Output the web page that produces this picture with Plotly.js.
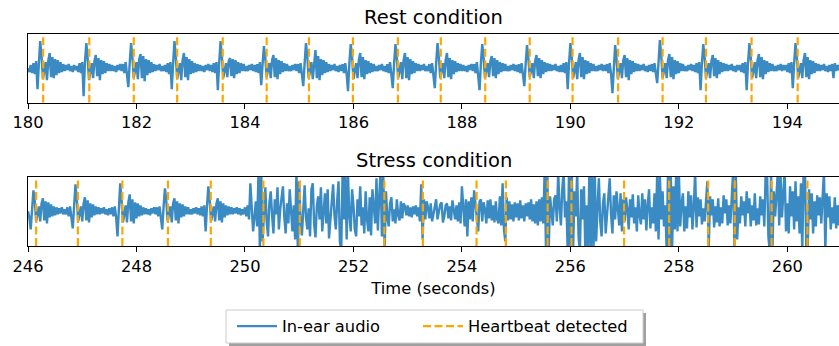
<!DOCTYPE html>
<html>
<head>
<meta charset="utf-8">
<script src="https://cdn.plot.ly/plotly-3.0.1.min.js"></script>
<style>html,body{margin:0;padding:0;background:#fff;}#chart{width:839px;height:346px;}</style>
</head>
<body>
<div id="chart"></div>
<script>
// ---- data ----
const sampleStep = 0.025;            // seconds between samples
const restStart = 180;
const stressStart = 246;

// In-ear audio, rest condition (arbitrary amplitude units)
const restAudio = [
0,-4,
3,-5,5,-6,7,-21,4,27,12,-11,-3,6,-12,8,15,-9,11,-10,9,-7,8,-5,6,-4,4,-3,
3,-2,4,-3,2,-4,3,-2,
2,-4,5,-5,6,-28,6,25,10,-12,-4,5,-10,7,13,-8,10,-12,8,-6,7,-5,5,-3,4,-3,
3,-3,2,-4,3,-2,4,
-3,4,-5,6,-6,-19,5,25,11,-10,-2,6,-11,9,14,-10,12,-13,9,-7,8,-5,6,-4,4,-3,
3,-2,4,-3,2,-3,
3,-4,5,-6,6,-21,4,27,12,-11,-3,5,-12,8,15,-9,11,-12,9,-6,7,-5,5,-4,4,-3,
3,-3,2,-4,3,-2,4,-3,
3,-4,5,-5,6,-22,5,27,11,-10,-3,5,-9,7,10,-8,9,-10,8,-6,6,-5,5,-3,4,-3,
2,-3,3,-2,4,-3,
3,-4,4,-5,6,-17,4,22,10,-9,-2,5,-10,8,13,-9,10,-11,8,-6,7,-4,5,-3,4,-3,
2,-3,3,-2,4,
-3,4,-5,5,-6,-18,5,25,11,-10,-3,6,-11,9,18,-10,12,-12,9,-7,8,-5,6,-4,4,-3,
3,-2,4,-3,2,-4,3,
-3,4,-5,5,-6,-23,5,24,11,-11,-3,5,-10,8,15,-9,11,-11,8,-6,7,-5,5,-4,4,-3,
2,-3,3,-2,4,-3,2,
-4,4,-5,6,-6,-20,5,24,10,-10,-3,6,-11,8,15,-10,11,-12,9,-6,7,-5,5,-3,4,-3,
3,-2,4,-3,2,
-3,4,-5,5,-6,-20,5,25,11,-10,-3,5,-10,8,15,-9,10,-11,8,-6,7,-4,5,-3,4,-3,
3,-3,2,-4,3,-2,4,
-3,4,-5,6,-6,-22,5,24,10,-10,-2,5,-9,7,12,-8,10,-10,8,-6,6,-4,5,-3,4,-3,
2,-3,3,-2,4,-3,3,
-4,4,-5,5,-6,-18,4,23,10,-9,-3,5,-10,7,13,-8,10,-10,8,-6,6,-4,5,-3,4,-3,
3,-2,4,-3,2,-4,
3,-4,5,-5,6,-21,5,25,11,-10,-3,6,-11,8,15,-9,11,-11,8,-6,7,-5,5,-3,4,-3,
2,-3,3,-2,4,-3,3,
-3,4,-5,5,-6,-25,5,23,10,-11,-3,5,-10,8,13,-9,10,-12,8,-6,7,-4,5,-3,4,-3,
3,-2,4,-3,2,-4,3,
-3,4,-4,5,-6,-15,6,28,12,-10,-3,5,-10,8,14,-9,11,-11,8,-6,7,-5,5,-3,4,-3,
2,-3,3,-2,4,-3,
3,-4,5,-5,6,-22,5,24,11,-10,-3,5,-10,7,13,-8,10,-10,8,-6,6,-4,5,-3,4,-3,
3,-2,4,-3,2,-4,3,-2,
3,-4,5,-5,6,-22,5,25,11,-10,-3,6,-10,8,14,-9,11,-11,8,-6,7,-4,5,-3,4,-3,
2,-3,3,-2,4,-3,3,-2,
3,-4,5,-5,6,-20,5,25,11,-10,-3,5,-10,8,15,-9,11,-11,8,-6,7,-5,5,-3,4,-3,
3,-2,4,-3,2,-4,3,-3,4,-10,5,-3,3,-2,4,-3
];

// In-ear audio, stress condition
const stressAudio = [
0,-6,-18,6,21,10,-10,-3,5,-10,8,13,-9,10,-12,9,-6,7,-5,5,-4,4,-3,
3,-2,4,-3,2,
-3,4,-5,5,-6,-17,5,27,12,-10,-3,5,-10,8,14,-9,11,-11,8,-6,7,-4,5,-3,4,-3,
3,-2,4,-3,2,-4,3,
-3,4,-5,5,-6,-25,5,28,12,-11,-3,6,-11,9,17,-10,12,-12,9,-7,8,-5,6,-4,4,-3,
3,-3,2,-4,3,-2,4,
-3,4,-5,5,-6,-18,5,23,10,-10,-3,5,-11,8,13,-9,10,-12,8,-6,7,-5,5,-3,4,-3,
2,-3,3,-2,4,-3,
3,-4,5,-5,6,-20,5,25,11,-10,-3,5,-10,8,13,-9,10,-11,8,-6,6,-4,5,-3,4,-3,
3,-2,4,-3,3,-4,2,-3,4,-5,6,-8,
28,4,-20,-6,10,-15,40,-40,38,-30,6,24,-10,-25,8,20,-4,-22,
12,-3,24,-18,2,16,25,-5,-22,8,-12,22,-2,-20,6,
-28,42,-40,30,-10,-24,8,26,-6,-18,3,-25,22,28,-12,
-26,5,15,-8,24,-20,2,18,-12,22,
-27,-6,12,27,-4,-18,10,30,-30,-40,
40,-8,38,-28,36,-4,-20,22,6,-18,
-25,12,-5,25,-14,4,-22,20,-8,-20,
14,-24,22,3,-12,33,-19,14,
40,-25,38,-40,
20,-6,-15,8,14,-10,2,-12,12,-4,-9,10,-7,8,
5,-4,6,-5,4,-6,5,-3,6,-5,4,
-10,27,-28,12,-8,
10,4,-7,8,-10,-3,6,12,-8,-2,7,9,-11,-5,6,8,-7,5,-9,11,3,-8,6,-10,9,
-12,25,8,-15,12,-25,10,-8,14,-10,21,6,-12,-20,10,12,
-10,9,2,-12,11,-7,12,-9,6,-11,10,-8,-12,
15,-14,28,-18,-30,14,-9,
10,-8,7,-10,9,-6,8,-9,11,-7,6,-10,8,-5,9,-8,12,-10,7,-12,10,-14,12,-10,
14,-12,40,-38,36,-40,15,2,-14,12,
16,-10,40,4,-14,22,40,-6,10,-40,
42,-40,40,-38,20,-5,40,-25,-40,22,
-8,25,-40,6,-40,42,-38,40,-40,38,
-30,4,33,-10,-25,8,18,-22,-6,15,
33,-4,-22,16,-8,20,4,-14,18,-20,
12,
-10,14,2,-18,12,-6,17,-12,4,-20,
16,-4,-13,18,-8,12,-19,6,22,-17,
4,-12,18,-20,38,-28,36,-8,20,-15,
6,-40,42,-40,40,-38,25,-18,40,-20,
40,-15,8,18,-20,5,-17,20,-6,16,
-18,4,40,-16,14,-5,12,-13,3,-10,
12,30,-38,15,-4,12,-16,5,-11,13,
-15,4,-12,16,-2,12,-14,6,-12,20,
40,-38,36,-28,4,-12,15,-4,10,-15,
20,-2,13,-15,6,-9,18,-14,3,-13,
15,-4,12,-15,38,42,-25,-40,40,-40,
20,-5,18,40,-14,36,-6,20,40,-20,
8,-22,25,-5,20,-18,30,-10,15,-22,
28,-40,42,40,-40,-38,22,-8,18,-22,
10,-15,16,-4,14,-12,18,40,-40,18,
-6,15,-18,4,-12,14,-17,6,-14,12,
-10
];

// Detected heartbeat times (seconds)
const restBeats = [180.28,181.13,181.95,182.75,183.59,184.40,185.18,185.99,186.82,187.61,188.43,189.25,190.04,190.88,191.70,192.50,193.34,194.19];
const stressBeats = [246.15,246.92,247.74,248.58,249.37,250.34,251.01,252.57,253.28,254.27,254.81,255.58,256.02,256.99,257.82,258.54,259.03,259.71,260.37];

// Tick labels
const restTicks = [180,182,184,186,188,190,192,194];
const stressTicks = [246,248,250,252,254,256,258,260];

// ---- build traces ----
const YLIM = 34.6;
const BLUE = '#3a8ac4';
const ORANGE = '#ffa500';
const pxPerSec = 54.24;
const plotW = 811;
const H = 346;

function timeAxis(start, n){ const t=[]; for(let i=0;i<n;i++) t.push(+(start + i*sampleStep).toFixed(4)); return t; }
function vlines(beats){ const x=[],y=[]; beats.forEach(b=>{x.push(b,b,null); y.push(-YLIM,YLIM,null);}); return {x,y}; }

const rv = vlines(restBeats), sv = vlines(stressBeats);
const audioLine = {color:BLUE, width:2.4};
const beatLine = {color:ORANGE, width:2.2, dash:'8px,3.5px'};

const traces = [
  {x: timeAxis(restStart, restAudio.length), y: restAudio, type:'scatter', mode:'lines', name:'In-ear audio',
   line:audioLine, xaxis:'x', yaxis:'y', legend:'legend', showlegend:true, hoverinfo:'skip'},
  {x: rv.x, y: rv.y, type:'scatter', mode:'lines', name:'Heartbeat detected',
   line:beatLine, xaxis:'x', yaxis:'y', legend:'legend2', showlegend:true, hoverinfo:'skip'},
  {x: timeAxis(stressStart, stressAudio.length), y: stressAudio, type:'scatter', mode:'lines', name:'In-ear audio',
   line:audioLine, xaxis:'x2', yaxis:'y2', showlegend:false, hoverinfo:'skip'},
  {x: sv.x, y: sv.y, type:'scatter', mode:'lines', name:'Heartbeat detected',
   line:beatLine, xaxis:'x2', yaxis:'y2', showlegend:false, hoverinfo:'skip'}
];

const FONT = 'DejaVu Sans, sans-serif';
function xax(start, ticks, anchor){
  return {anchor:anchor, domain:[0,1], range:[start, start + plotW/pxPerSec],
    tickmode:'array', tickvals:ticks, ticktext:ticks.map(String),
    ticks:'outside', ticklen:5, tickwidth:1, tickcolor:'#000',
    showline:true, mirror:true, linecolor:'#000', linewidth:1,
    showgrid:false, zeroline:false, tickfont:{size:16.3, family:FONT, color:'#000'}};
}
function yax(dom, anchor){
  return {anchor:anchor, domain:dom, range:[-YLIM, YLIM], showticklabels:false, ticks:'',
    showline:true, mirror:false, linecolor:'#000', linewidth:1, showgrid:false, zeroline:false};
}
// pixel -> paper helpers for the legend frame
const px = v => (v - 28) / plotW;
const py = v => 1 - v / H;
const legFont = {size:16.3, family:FONT, color:'#000'};
const legCommon = {orientation:'h', xanchor:'left', yanchor:'middle', y:py(326.5),
  bgcolor:'rgba(0,0,0,0)', borderwidth:0, font:legFont, itemwidth:40};

const layout = {
  width:839, height:346,
  margin:{l:28, r:0, t:0, b:0, pad:0},
  paper_bgcolor:'#fff', plot_bgcolor:'#fff',
  font:{family:FONT, size:16.3, color:'#000'},
  title:{text:'Rest condition', x:0.5, xref:'paper', xanchor:'center', y:py(17), yref:'container', yanchor:'middle',
         font:{size:19.5, family:FONT, color:'#000'}},
  xaxis: xax(restStart, restTicks, 'y'),
  yaxis: yax([py(102.7), py(33.5)], 'x'),
  xaxis2: Object.assign(xax(stressStart, stressTicks, 'y2'), {title:{text:'Time (seconds)', standoff:8, font:{size:16.3, family:FONT, color:'#000'}}}),
  yaxis2: yax([py(246), py(176.7)], 'x2'),
  annotations:[{text:'Stress condition', xref:'paper', yref:'paper', x:0.5, y:py(160), xanchor:'center', yanchor:'middle',
                showarrow:false, font:{size:19.5, family:FONT, color:'#000'}}],
  shapes:[
    {type:'rect', xref:'paper', yref:'paper', x0:px(229), x1:px(646), y0:py(346.5), y1:py(313), fillcolor:'#a0a0a0', line:{width:0}, layer:'above'},
    {type:'rect', xref:'paper', yref:'paper', x0:px(226), x1:px(643), y0:py(343), y1:py(310), fillcolor:'#ffffff', line:{color:'#cccccc', width:1}, layer:'above'}
  ],
  showlegend:true,
  legend: Object.assign({}, legCommon, {x:px(232)}),
  legend2: Object.assign({}, legCommon, {x:px(418)})
};

Plotly.newPlot('chart', traces, layout, {staticPlot:true, displayModeBar:false});
</script>
</body>
</html>
